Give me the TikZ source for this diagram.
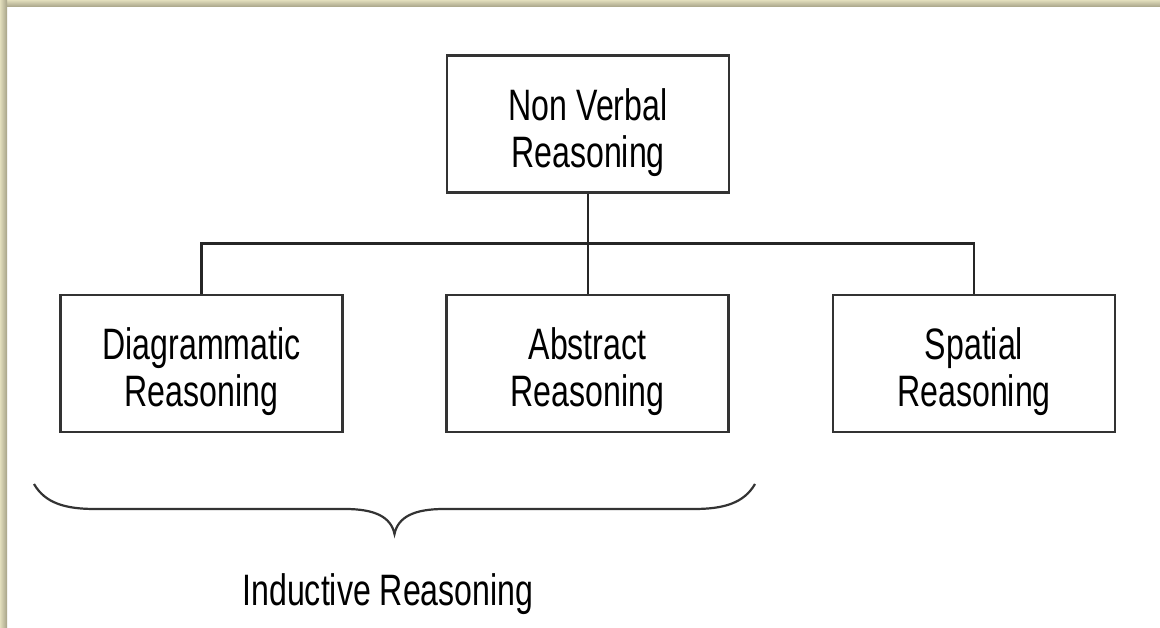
\documentclass[tikz,border=0pt]{standalone}
\usepackage{fontspec}
\setmainfont{Liberation Sans}[FakeStretch=0.73]
\usetikzlibrary{calc}
\newcommand{\tallstrut}{\rule{0pt}{49pt}}

\definecolor{frameout}{RGB}{226,222,188}
\definecolor{framein}{RGB}{166,162,136}
\tikzset{
    box/.style={draw=black!80, line width=2.6pt, fill=white, minimum width=282pt, minimum height=137pt, inner sep=0pt, align=center, font=\fontsize{44}{47}\selectfont},
    link/.style={draw=black!85, line width=2.8pt}
}

\begin{document}
\begin{tikzpicture}[x=1pt,y=-1pt]
            \useasboundingbox (0,0) rectangle (1160,628);
            \fill[white] (0,0) rectangle (1160,628);% page
            \shade[top color=frameout, bottom color=framein] (0,0) rectangle (1160,7);% top edge
            \shade[left color=frameout, right color=framein] (0,0) rectangle (7,628);% left edge

            \node[box] (nvr) at (588,124) {\tallstrut Non Verbal\\Reasoning};
            \node[box] (dia) at (201.5,363.5) {\tallstrut Diagrammatic\\Reasoning};
            \node[box] (abs) at (587.5,363.5) {\tallstrut Abstract\\Reasoning};
            \node[box] (spa) at (974,363.5) {\tallstrut Spatial\\Reasoning};

            \draw[link] (nvr.south) -- (nvr.south |- abs.north);% Draw trunk
            \draw[link] (dia.north) -- ++(0,-50) -| (spa.north);% Draw bus

            % brace under the first two
            \coordinate (BraceL) at (34,484);
            \coordinate (BraceR) at (755,484);
            \coordinate (BraceTip) at (394.5,534);
            \draw[black!80, line width=2.2pt]
                (BraceL) .. controls (45,503) and (65,509) .. (95,509)
                -- (345,509) .. controls (375,509) and (391,517) .. (BraceTip)
                .. controls (398,517) and (414,509) .. (444,509)
                -- (694,509) .. controls (724,509) and (744,503) .. (BraceR);
            \node[anchor=base, font=\fontsize{44}{47}\selectfont] (ind) at (388,605) {Inductive Reasoning};
        \end{tikzpicture}
\end{document}
